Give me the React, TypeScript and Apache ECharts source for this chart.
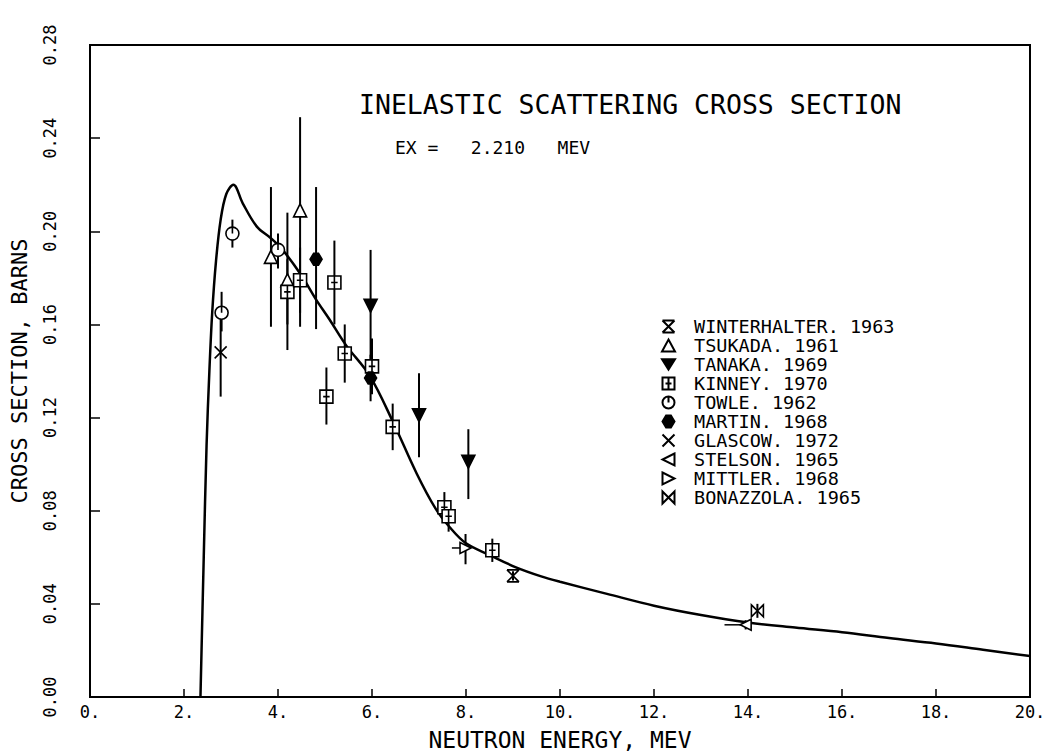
import React, { useEffect, useRef } from "react";
import * as echarts from "echarts";

// ---- data ----
const curveX = [2.35, 2.42, 2.48, 2.54, 2.6, 2.68, 2.78, 2.9, 3.05, 3.25, 3.55, 3.85, 4.1, 4.5, 4.8, 5.1, 5.45, 5.95, 6.45, 6.95, 7.35, 7.65, 8.0, 8.5, 9.05, 9.6, 10, 11, 12, 13, 14, 15, 16, 17, 18, 19, 20];
const curveY = [0.0, 0.06, 0.108, 0.14, 0.165, 0.187, 0.205, 0.216, 0.220, 0.212, 0.202, 0.197, 0.192, 0.181, 0.171, 0.162, 0.151, 0.138, 0.118, 0.096, 0.081, 0.073, 0.066, 0.061, 0.0558, 0.0518, 0.0495, 0.0443, 0.0392, 0.0352, 0.032, 0.0298, 0.0278, 0.0253, 0.023, 0.0203, 0.0176];

// each point: [energy, sigma, sigmaLow, sigmaHigh]
const winterhalter = [[9.0, 0.052, 0.050, 0.054]];
const tsukada = [[3.85, 0.189, 0.159, 0.219], [4.2, 0.179, 0.149, 0.208], [4.47, 0.209, 0.159, 0.249]];
const tanaka = [[5.97, 0.168, 0.144, 0.192], [7.0, 0.121, 0.103, 0.139], [8.05, 0.101, 0.085, 0.115]];
const kinney = [[4.2, 0.174, 0.160, 0.188], [4.47, 0.179, 0.165, 0.193], [5.03, 0.129, 0.117, 0.1415], [5.2, 0.178, 0.160, 0.196], [5.42, 0.1475, 0.135, 0.160], [6.0, 0.142, 0.130, 0.154], [6.44, 0.116, 0.106, 0.126], [7.54, 0.0815, 0.075, 0.088], [7.63, 0.0776, 0.071, 0.084], [8.56, 0.063, 0.058, 0.068]];
const towle = [[2.8, 0.165, 0.157, 0.174], [3.03, 0.199, 0.193, 0.205], [4.0, 0.192, 0.184, 0.199]];
const martin = [[4.81, 0.188, 0.158, 0.219], [5.97, 0.137, 0.127, 0.147]];
const glasgow = [[2.78, 0.148, 0.129, 0.167]];
const stelson = [[13.95, 0.031, 0.029, 0.033]];
const mittler = [[7.99, 0.064, 0.057, 0.070]];
const bonazzola = [[14.2, 0.037, 0.034, 0.040]];
// horizontal error bars: [sigma, energyLow, energyHigh]
const xErrors = [[0.031, 13.5, 14.0], [0.064, 7.7, 8.1]];

const xTicks = { min: 0, max: 20, interval: 2 };
const yTicks = { min: 0, max: 0.28, interval: 0.04 };

const FONT = "DejaVu Sans Mono";

const seriesDefs = [
  { name: "WINTERHALTER. 1963", data: winterhalter, symbol: "path://M0,0H10M0,10H10M0,0L10,10M10,0L0,10", size: 12, fill: "#000" },
  { name: "TSUKADA. 1961", data: tsukada, symbol: "triangle", size: 13, fill: "#fff" },
  { name: "TANAKA. 1969", data: tanaka, symbol: "path://M0,0H10L5,8Z", size: 13, fill: "#000" },
  { name: "KINNEY. 1970", data: kinney, symbol: "path://M0,0H10V10H0Z M5,0V10 M2.5,5H7.5", size: 13, fill: "#fff" },
  { name: "TOWLE. 1962", data: towle, symbol: "path://M5,0C7.8,0 10,2.2 10,5C10,7.8 7.8,10 5,10C2.2,10 0,7.8 0,5C0,2.2 2.2,0 5,0Z M5,0V5", size: 13, fill: "#fff" },
  { name: "MARTIN. 1968", data: martin, symbol: "path://M3,0H7L10,5L7,10H3L0,5Z", size: 12, fill: "#000" },
  { name: "GLASCOW. 1972", data: glasgow, symbol: "path://M0,0L10,10M10,0L0,10", size: 12, fill: "#000" },
  { name: "STELSON. 1965", data: stelson, symbol: "path://M10,0L0,5L10,10Z", size: 11, fill: "#fff" },
  { name: "MITTLER. 1968", data: mittler, symbol: "path://M0,0L10,5L0,10Z", size: 11, fill: "#fff" },
  { name: "BONAZZOLA. 1965", data: bonazzola, symbol: "path://M0,0L10,10V0L0,10Z", size: 12, fill: "#fff" },
];

export default function App() {
  const ref = useRef<HTMLDivElement>(null);
  useEffect(() => {
    if (!ref.current) return;
    const chart = echarts.init(ref.current, null, { renderer: "svg" });
    const allPts = seriesDefs.flatMap((s) => s.data);
    const option: any = {
      animation: false,
      backgroundColor: "#fff",
      textStyle: { fontFamily: FONT, color: "#000" },
      title: [
        { text: "INELASTIC SCATTERING CROSS SECTION", left: 354, top: 86, textStyle: { fontFamily: FONT, fontSize: 26.5, fontWeight: "normal", color: "#000" } },
        { text: "EX =   2.210   MEV", left: 390, top: 133, textStyle: { fontFamily: FONT, fontSize: 18, fontWeight: "normal", color: "#000" } },
      ],
      grid: { left: 86, top: 45, right: 22, bottom: 58, show: true, borderColor: "#000", borderWidth: 2, backgroundColor: "transparent" },
      legend: {
        orient: "vertical",
        left: 656,
        top: 312,
        itemWidth: 13,
        itemHeight: 12,
        itemGap: 0,
        data: seriesDefs.map((s) => s.name),
        textStyle: { fontFamily: FONT, fontSize: 18.5, lineHeight: 19, color: "#000", padding: [0, 0, 0, 14] },
        selectedMode: false,
      },
      xAxis: {
        type: "value",
        ...xTicks,
        name: "NEUTRON ENERGY, MEV",
        nameLocation: "middle",
        nameGap: 31,
        nameTextStyle: { fontFamily: FONT, fontSize: 23, color: "#000" },
        axisLine: { lineStyle: { color: "#000", width: 2 } },
        axisTick: { inside: true, length: 8, lineStyle: { color: "#000", width: 1.5 } },
        axisLabel: { margin: 6, fontFamily: FONT, fontSize: 17, color: "#000", formatter: (v: number) => `${v}.` },
        splitLine: { show: false },
      },
      yAxis: {
        type: "value",
        ...yTicks,
        name: "CROSS SECTION, BARNS",
        nameLocation: "middle",
        nameGap: 60,
        nameTextStyle: { fontFamily: FONT, fontSize: 22, color: "#000" },
        axisLine: { lineStyle: { color: "#000", width: 2 } },
        axisTick: { inside: true, length: 10, lineStyle: { color: "#000", width: 1.5 } },
        axisLabel: { rotate: 90, margin: 32, fontFamily: FONT, fontSize: 17, color: "#000", formatter: (v: number) => v.toFixed(2) },
        splitLine: { show: false },
      },
      series: [
        {
          type: "line",
          data: curveX.map((x, i) => [x, curveY[i]]),
          smooth: 0.35,
          showSymbol: false,
          lineStyle: { color: "#000", width: 2.5 },
          z: 2,
          silent: true,
        },
        {
          type: "custom",
          data: allPts,
          encode: { x: 0, y: [2, 3] },
          silent: true,
          z: 3,
          renderItem: (params: any, api: any) => {
            const x = api.value(0);
            const p1 = api.coord([x, api.value(2)]);
            const p2 = api.coord([x, api.value(3)]);
            return { type: "line", shape: { x1: p1[0], y1: p1[1], x2: p2[0], y2: p2[1] }, style: { stroke: "#000", lineWidth: 2 } };
          },
        },
        {
          type: "custom",
          data: xErrors,
          encode: { x: [1, 2], y: 0 },
          silent: true,
          z: 3,
          renderItem: (params: any, api: any) => {
            const y = api.value(0);
            const p1 = api.coord([api.value(1), y]);
            const p2 = api.coord([api.value(2), y]);
            return { type: "line", shape: { x1: p1[0], y1: p1[1], x2: p2[0], y2: p2[1] }, style: { stroke: "#000", lineWidth: 1.5 } };
          },
        },
        ...seriesDefs.map((s) => ({
          type: "scatter",
          name: s.name,
          data: s.data.map((p) => [p[0], p[1]]),
          symbol: s.symbol,
          symbolSize: s.size,
          z: 4,
          itemStyle: { color: s.fill, borderColor: "#000", borderWidth: 1.6, opacity: 1 },
        })),
      ],
    };
    chart.setOption(option);
    return () => chart.dispose();
  }, []);
  return <div ref={ref} style={{ position: "fixed", left: 0, top: 0, width: 1052, height: 756 }} />;
}
